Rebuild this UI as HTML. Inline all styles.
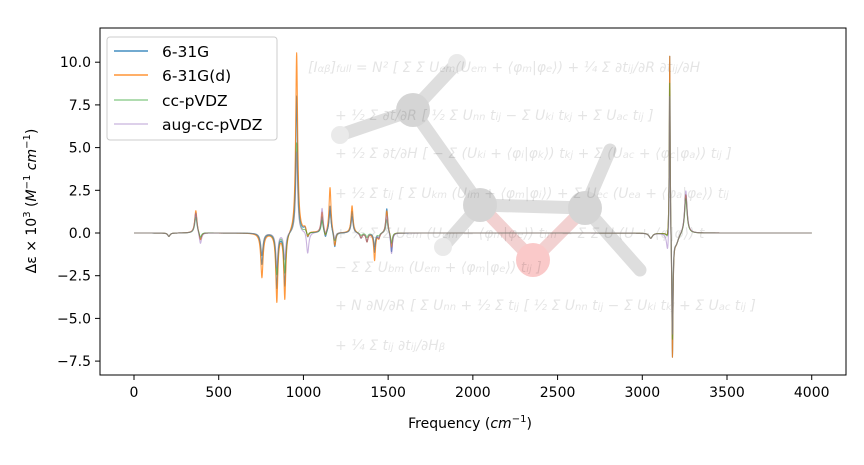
<!DOCTYPE html>
<html><head><meta charset="utf-8"><style>
body{margin:0;background:#fff}
svg{display:block}
text{font-family:"DejaVu Sans","Liberation Sans",sans-serif}
.m{font-family:"DejaVu Serif","Liberation Serif",serif;font-style:italic;fill:#000;opacity:0.1;font-size:14px}
</style></head><body>
<svg id="s" width="864" height="465" viewBox="0 0 864 465" xmlns="http://www.w3.org/2000/svg">
<rect width="864" height="465" fill="#fff"/>
<g opacity="0.24" stroke-linecap="round">
<g stroke="#777" stroke-width="13">
<line x1="413" y1="110" x2="340" y2="135"/>
<line x1="413" y1="110" x2="457" y2="63"/>
<line x1="413" y1="110" x2="480" y2="205"/>
<line x1="480" y1="205" x2="443" y2="247"/>
<line x1="480" y1="205" x2="585" y2="208"/>
<line x1="585" y1="208" x2="610" y2="150"/>
<line x1="585" y1="208" x2="640" y2="270"/>
</g>
<g stroke="#c44" stroke-width="13">
<line x1="480" y1="205" x2="533" y2="260"/>
<line x1="585" y1="208" x2="533" y2="260"/>
</g>
<circle cx="413" cy="110" r="17" fill="#555"/>
<circle cx="480" cy="205" r="17" fill="#555"/>
<circle cx="585" cy="208" r="17" fill="#555"/>
<circle cx="533" cy="260" r="17" fill="#e22"/>
<circle cx="340" cy="135" r="9" fill="#aaa"/>
<circle cx="457" cy="63" r="9" fill="#aaa"/>
<circle cx="443" cy="247" r="9" fill="#aaa"/>
</g>
<g class="m">
<text x="308" y="72">[I<tspan font-size="10">αβ</tspan>]<tspan font-size="10">full</tspan> = N² [ Σ Σ U<tspan font-size="10">em</tspan>(U<tspan font-size="10">em</tspan> + ⟨φ<tspan font-size="10">m</tspan>|φ<tspan font-size="10">e</tspan>⟩) + ¼ Σ ∂t<tspan font-size="10">ij</tspan>/∂R ∂t<tspan font-size="10">ij</tspan>/∂H</text>
<text x="335" y="120">+ ½ Σ ∂t/∂R [ ½ Σ U<tspan font-size="10">nn</tspan> t<tspan font-size="10">ij</tspan> − Σ U<tspan font-size="10">ki</tspan> t<tspan font-size="10">kj</tspan> + Σ U<tspan font-size="10">ac</tspan> t<tspan font-size="10">ij</tspan> ]</text>
<text x="335" y="158">+ ½ Σ ∂t/∂H [ − Σ (U<tspan font-size="10">ki</tspan> + ⟨φ<tspan font-size="10">i</tspan>|φ<tspan font-size="10">k</tspan>⟩) t<tspan font-size="10">kj</tspan> + Σ (U<tspan font-size="10">ac</tspan> + ⟨φ<tspan font-size="10">c</tspan>|φ<tspan font-size="10">a</tspan>⟩) t<tspan font-size="10">ij</tspan> ]</text>
<text x="335" y="198">+ ½ Σ t<tspan font-size="10">ij</tspan> [ Σ U<tspan font-size="10">km</tspan> (U<tspan font-size="10">im</tspan> + ⟨φ<tspan font-size="10">m</tspan>|φ<tspan font-size="10">i</tspan>⟩) + Σ U<tspan font-size="10">ec</tspan> (U<tspan font-size="10">ea</tspan> + ⟨φ<tspan font-size="10">a</tspan>|φ<tspan font-size="10">e</tspan>⟩) t<tspan font-size="10">ij</tspan></text>
<text x="335" y="238">+ ½ Σ Σ U<tspan font-size="10">em</tspan> (U<tspan font-size="10">em</tspan> + ⟨φ<tspan font-size="10">m</tspan>|φ<tspan font-size="10">e</tspan>⟩) t<tspan font-size="10">im</tspan> − Σ Σ U (U + ⟨φ|φ⟩) t</text>
<text x="335" y="272">− Σ Σ U<tspan font-size="10">bm</tspan> (U<tspan font-size="10">em</tspan> + ⟨φ<tspan font-size="10">m</tspan>|φ<tspan font-size="10">e</tspan>⟩) t<tspan font-size="10">ij</tspan> ]</text>
<text x="335" y="310">+ N ∂N/∂R [ Σ U<tspan font-size="10">nn</tspan> + ½ Σ t<tspan font-size="10">ij</tspan> [ ½ Σ U<tspan font-size="10">nn</tspan> t<tspan font-size="10">ij</tspan> − Σ U<tspan font-size="10">ki</tspan> t<tspan font-size="10">kj</tspan> + Σ U<tspan font-size="10">ac</tspan> t<tspan font-size="10">ij</tspan> ]</text>
<text x="335" y="350">+ ¼ Σ t<tspan font-size="10">ij</tspan> ∂t<tspan font-size="10">ij</tspan>/∂H<tspan font-size="10">β</tspan></text>
</g>
<g id="series" fill="none" stroke-width="1.1" stroke-linejoin="round"></g>
<rect x="100" y="28" width="746" height="347" fill="none" stroke="#000" stroke-width="1"/>
<g id="ticks" stroke="#000" stroke-width="1"></g>
<g id="labels" font-size="14" fill="#000"></g>
<text x="470" y="428" font-size="14" text-anchor="middle">Frequency (<tspan font-style="italic">cm</tspan><tspan font-size="10" dy="-6">−1</tspan><tspan dy="6">)</tspan></text>
<text transform="translate(36,201) rotate(-90)" font-size="14" text-anchor="middle">Δε × 10<tspan font-size="10" dy="-6">3</tspan><tspan dy="6"> (</tspan><tspan font-style="italic">M</tspan><tspan font-size="10" dy="-6">−1</tspan><tspan dy="6" font-style="italic"> cm</tspan><tspan font-size="10" dy="-6">−1</tspan><tspan dy="6">)</tspan></text>
<rect x="107" y="37" width="170" height="103" rx="3" fill="#fff" fill-opacity="0.8" stroke="#ccc"/>
<g stroke-width="1.3">
<line x1="114" y1="51" x2="148" y2="51" stroke="#1f77b4"/>
<line x1="114" y1="75" x2="148" y2="75" stroke="#ff7f0e"/>
<line x1="114" y1="100" x2="148" y2="100" stroke="#2ca02c" stroke-opacity="0.6"/>
<line x1="114" y1="124" x2="148" y2="124" stroke="#9467bd" stroke-opacity="0.5"/>
</g>
<g font-size="15.5">
<text x="162" y="57">6-31G</text>
<text x="162" y="81">6-31G(d)</text>
<text x="162" y="106">cc-pVDZ</text>
<text x="162" y="130">aug-cc-pVDZ</text>
</g>
</svg>
<script>
var NS="http://www.w3.org/2000/svg";
function X(f){return 134+f*0.16943;}
function Y(v){return 233-v*17.08;}
var tk=document.getElementById("ticks"),lb=document.getElementById("labels");
function el(p,n,a,t){var e=document.createElementNS(NS,n);for(var k in a)e.setAttribute(k,a[k]);if(t)e.textContent=t;p.appendChild(e);return e;}
for(var f=0;f<=4000;f+=500){var x=X(f);el(tk,"line",{x1:x,y1:375,x2:x,y2:380});el(lb,"text",{x:x,y:397,"text-anchor":"middle"},String(f));}
[-7.5,-5,-2.5,0,2.5,5,7.5,10].forEach(function(v){var y=Y(v);el(tk,"line",{x1:95,y1:y,x2:100,y2:y});el(lb,"text",{x:91,y:y+5,"text-anchor":"end"},(v<0?"\u2212":"")+Math.abs(v).toFixed(1));});
var base=[[206,-0.2,8],[365,1.35,8],[392,-0.5,8],[755,-2.6,8],[843,-4.0,7],[890,-3.9,7],[960,10.6,7],[1010,0.3,10],[1025,-0.4,8],[1110,1.2,7],[1130,-0.4,7],[1157,2.7,7],[1185,-0.9,7],[1287,1.6,7],[1340,-0.3,8],[1375,-0.5,7],[1420,-1.6,6],[1445,-0.3,7],[1492,1.35,7],[1520,-0.9,6],[3050,-0.3,12],[3150,-0.4,8],[3162,11.0,3],[3178,-7.4,4],[3200,-0.6,18],[3257,2.3,9]];
var ser=[
 {c:"#1f77b4",o:0.8,m:[1,0.9,0.9,0.7,0.8,0.8,0.76,1,1,0.8,1,0.6,1,0.8,1,1,0.7,1,1.1,1.3,1,1,1,1,1,1]},
 {c:"#ff7f0e",o:0.8,m:null},
 {c:"#2ca02c",o:0.55,m:[1,0.7,0.6,0.5,0.6,0.6,0.5,0.5,0.5,0.6,0.6,0.5,0.6,0.6,0.5,0.5,0.5,0.5,0.6,0.7,1,1,0.85,0.85,1,0.9]},
 {c:"#9467bd",o:0.5,m:[1,0.9,1.4,0.5,0.5,0.4,0.45,0.5,3.2,1.2,0.5,0.5,0.5,0.6,1,1,0.5,1,0.8,1.4,1,3,0.8,0.8,1,1.1]}
];
var g=document.getElementById("series");
ser.forEach(function(S){var pts=[];for(var f=0;f<=4000;f+=1){var v=0;for(var i=0;i<base.length;i++){var p=base[i],a=p[1]*(S.m?S.m[i]:1),d=(f-p[0])/p[2];v+=a/(1+d*d);}pts.push(X(f).toFixed(2)+","+Y(v).toFixed(2));}
 el(g,"polyline",{points:pts.join(" "),stroke:S.c,"stroke-opacity":S.o});});
</script>
</body></html>
